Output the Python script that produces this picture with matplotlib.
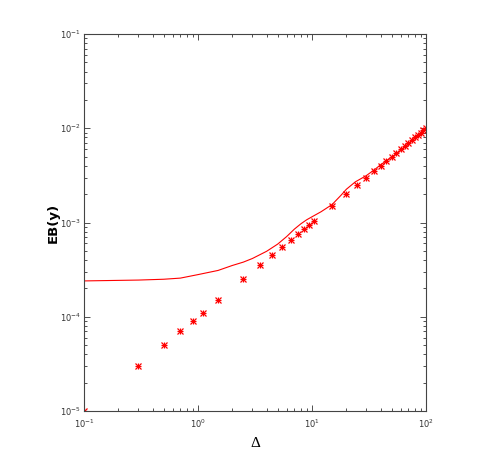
import matplotlib
matplotlib.use("Agg")
import matplotlib.pyplot as plt
from matplotlib.ticker import LogLocator, NullFormatter

# Marker data (stars)
delta_pts = [0.1, 0.3, 0.5, 0.7, 0.9, 1.1, 1.5, 2.5, 3.5, 4.5, 5.5, 6.5, 7.5, 8.5,
             9.5, 10.5, 15, 20, 25, 30, 35, 40, 45, 50, 55, 60, 65, 70, 75, 80,
             85, 90, 95, 100]
eb_pts = [1.0e-5, 3.0e-5, 5.0e-5, 7.0e-5, 9.0e-5, 1.1e-4, 1.5e-4, 2.5e-4, 3.5e-4,
          4.5e-4, 5.5e-4, 6.5e-4, 7.5e-4, 8.5e-4, 9.5e-4, 1.05e-3, 1.5e-3, 2.0e-3,
          2.5e-3, 3.0e-3, 3.5e-3, 4.0e-3, 4.5e-3, 5.0e-3, 5.5e-3, 6.0e-3, 6.5e-3,
          7.0e-3, 7.5e-3, 8.0e-3, 8.5e-3, 9.0e-3, 9.5e-3, 1.0e-2]

# Line data
delta_line = [0.1, 0.3, 0.5, 0.7, 1.0, 1.5, 2.0, 2.5, 3.0, 4.0, 5.0, 6.0, 7.0, 8.0,
              9.0, 10.0, 12.0, 15.0, 18.0, 20.0, 24.0, 28.0, 30.0, 35.0, 40.0,
              50.0, 60.0, 70.0, 80.0, 90.0, 100.0]
eb_line = [2.40e-4, 2.45e-4, 2.50e-4, 2.57e-4, 2.80e-4, 3.10e-4, 3.50e-4, 3.80e-4,
           4.15e-4, 4.95e-4, 5.90e-4, 7.10e-4, 8.50e-4, 9.70e-4, 1.07e-3, 1.15e-3,
           1.30e-3, 1.55e-3, 1.95e-3, 2.25e-3, 2.70e-3, 3.00e-3, 3.15e-3, 3.60e-3,
           4.10e-3, 4.95e-3, 5.80e-3, 6.80e-3, 7.90e-3, 9.00e-3, 1.02e-2]

fig = plt.figure(figsize=(4.91, 4.63), dpi=100)
ax = fig.add_axes([84/491, 1-411/463, (426-84)/491, (411-34)/463])

ax.plot(delta_line, eb_line, color='red', linewidth=0.8)
# MATLAB-style asterisk: plus and cross overlaid
ax.plot(delta_pts, eb_pts, linestyle='none', marker='+', color='red',
        markersize=5, markeredgewidth=0.9)
ax.plot(delta_pts, eb_pts, linestyle='none', marker='x', color='red',
        markersize=4, markeredgewidth=0.9)

ax.set_xscale('log')
ax.set_yscale('log')
ax.set_xlim(0.1, 100)
ax.set_ylim(1e-5, 1e-1)

ax.xaxis.set_major_locator(LogLocator(base=10, numticks=10))
ax.yaxis.set_major_locator(LogLocator(base=10, numticks=10))
ax.xaxis.set_minor_locator(LogLocator(base=10, subs=range(2, 10), numticks=10))
ax.yaxis.set_minor_locator(LogLocator(base=10, subs=range(2, 10), numticks=10))
ax.xaxis.set_minor_formatter(NullFormatter())
ax.yaxis.set_minor_formatter(NullFormatter())

ax.tick_params(which='both', direction='in', top=True, right=True,
               labelsize=6, colors='#333333', width=0.6)
ax.tick_params(axis='y', which='both', pad=2)
ax.tick_params(axis='x', which='both', pad=5)
ax.tick_params(which='major', length=4)
ax.tick_params(which='minor', length=2)
for s in ax.spines.values():
    s.set_linewidth(0.8)
    s.set_color('#444444')

ax.set_ylabel('EB(y)', fontsize=9.5, fontweight='bold')
ax.yaxis.set_label_coords(-0.072, 0.5)
ax.set_xlabel('Δ', fontsize=11, family='Liberation Serif')
ax.xaxis.set_label_coords(0.5, -0.07)

fig.savefig('out.png', dpi=100)
